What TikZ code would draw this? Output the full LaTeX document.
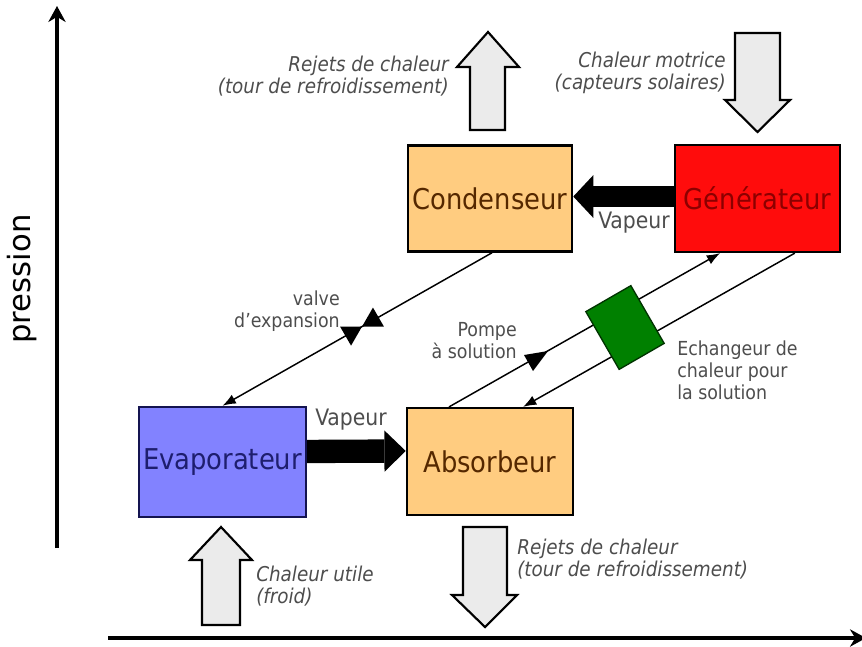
\documentclass[tikz,border=0pt]{standalone}
\usepackage{fontspec}
\setmainfont{DejaVu Sans Condensed}
\newfontfamily\axisfont{DejaVu Sans}
\usetikzlibrary{arrows.meta,calc}
\definecolor{orangebox}{RGB}{255,204,128}
\definecolor{orangetext}{RGB}{85,40,0}
\definecolor{redbox}{RGB}{255,12,12}
\definecolor{redtext}{RGB}{140,0,0}
\definecolor{bluebox}{RGB}{130,130,255}
\definecolor{bluetext}{RGB}{30,30,110}
\definecolor{blueborder}{RGB}{20,20,80}
\definecolor{greenbox}{RGB}{0,128,0}
\definecolor{labelgray}{RGB}{77,77,77}
\definecolor{blockfill}{RGB}{235,235,235}
\tikzset{
  box/.style={draw, line width=1.9pt, inner sep=0pt, font=\fontsize{21.5}{26}\selectfont},
  lbl/.style={text=labelgray, inner sep=0pt, font=\fontsize{14.5}{16.5}\selectfont},
  ilbl/.style={text=labelgray, inner sep=0pt, font=\fontsize{15.3}{16.5}\selectfont\itshape},
  thinarrow/.style={line width=1.1pt, -{Latex[length=10pt,width=7.5pt]}},
  axisline/.style={line width=3pt, -{Stealth[length=12pt,width=13pt]}},
  blockarrow/.style={draw=black, fill=blockfill, line width=1.6pt, line join=miter}
}
\begin{document}
\begin{tikzpicture}[x=0.75pt,y=-0.75pt]
\useasboundingbox (0,0) rectangle (862,646);

% axes
\coordinate (yb) at (57,548);
\coordinate (yt) at (57,6);
\coordinate (xl) at (108,638);
\coordinate (xr) at (866,638);
\draw[axisline] (yb) -- (yt);
\draw[axisline] (xl) -- (xr);
\node[rotate=90, inner sep=0pt, font=\axisfont\fontsize{23}{26}\selectfont] (pres) at (22,279) {pression};

% boxes
\node[box, fill=orangebox, text=orangetext, minimum width=123pt, minimum height=79.5pt] (cond) at (490,198.5) {Condenseur};
\node[box, fill=redbox, text=redtext, minimum width=123.75pt, minimum height=80pt] (gen) at (757.5,198.5) {Générateur};
\node[box, fill=bluebox, text=bluetext, draw=blueborder, minimum width=125pt, minimum height=82.5pt] (evap) at (222.5,462) {Evaporateur};
\node[box, fill=orangebox, text=orangetext, minimum width=124.5pt, minimum height=80pt] (abs) at (490,461.5) {Absorbeur};

% thick vapour arrows
\draw[line width=15.75pt, -{Triangle[length=15pt,width=32pt,line width=0pt]}] ([yshift=1.5pt]gen.west) -- ([yshift=1.5pt]cond.east);
\draw[line width=17.5pt, -{Triangle[length=16pt,width=31pt,line width=0pt]}] ([yshift=7.9pt]evap.east) -- ([yshift=7.9pt]abs.west);
\node[lbl, font=\fontsize{17}{20}\selectfont] (vap1) at (634,223) {Vapeur};
\node[lbl, font=\fontsize{17}{20}\selectfont] (vap2) at (351,420) {Vapeur};

% thin connectors
\draw[thinarrow] ([xshift=1.5pt]cond.south) -- (evap.north);
\draw[thinarrow] ([xshift=-30.75pt]abs.north) -- ([xshift=-28pt]gen.south);
\draw[thinarrow] ([xshift=28pt]gen.south) -- ([xshift=24.75pt]abs.north);

% expansion valve
\fill (362,326.6) -- (383.95,326.63) -- (372.95,307.57) -- cycle;
\fill (362,326.6) -- (351.05,345.63) -- (340.05,326.57) -- cycle;
% pump
\fill (524,355) -- (548,351) -- (533,371) -- cycle;
% heat exchanger
\node[draw=black!80!green, fill=greenbox, line width=1pt, rotate=30, minimum width=39pt, minimum height=50pt, inner sep=0pt] (exch) at (625,327.5) {};

% small labels
\node[lbl, anchor=east, align=right] (valvelbl) at (340,311) {valve\\d’expansion};
\node[lbl, anchor=east, align=right] (pumplbl) at (517,341) {Pompe\\à solution};
\node[lbl, anchor=west, align=left] (exchlbl) at (677,370) {Echangeur de\\chaleur pour\\la solution};

% block arrows
\draw[blockarrow] (470,130) -- (470,67) -- (457,67) -- (488,32) -- (519,67) -- (505,67) -- (505,130) -- cycle;
\draw[blockarrow] (735,33) -- (780,33) -- (780,100) -- (790,100) -- (757.5,132) -- (725,100) -- (735,100) -- cycle;
\draw[blockarrow] (202,625) -- (202,560) -- (190,560) -- (221,527) -- (252,560) -- (240,560) -- (240,625) -- cycle;
\draw[blockarrow] (463,527) -- (507,527) -- (507,595) -- (517,595) -- (485,627) -- (452,595) -- (463,595) -- cycle;

% italic labels
\node[ilbl, anchor=east, align=right] (rej1) at (449,76) {Rejets de chaleur\\(tour de refroidissement)};
\node[ilbl, anchor=east, align=right] (mot) at (726,73) {Chaleur motrice\\(capteurs solaires)};
\node[ilbl, anchor=west, align=left] (util) at (256,586) {Chaleur utile\\(froid)};
\node[ilbl, anchor=west, align=left] (rej2) at (517,559) {Rejets de chaleur\\(tour de refroidissement)};
\end{tikzpicture}
\end{document}
